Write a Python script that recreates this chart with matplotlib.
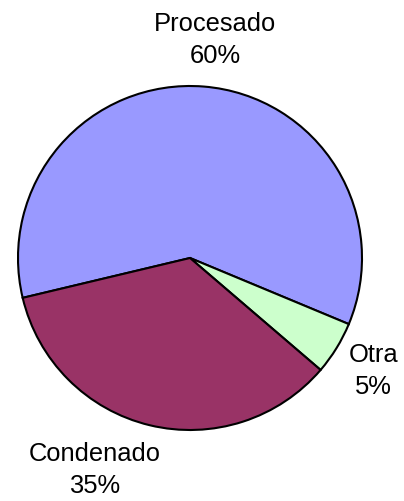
import numpy as np
import matplotlib
matplotlib.use('Agg')
import matplotlib.pyplot as plt

# datos
categorias = ['Procesado', 'Otra', 'Condenado']
valores = [60, 5, 35]
colores = ['#9999FF', '#CCFFCC', '#993366']

# posicion de etiquetas (distancia radial, giro en grados)
etiqueta_r = [1.276, 1.254, 1.352]
etiqueta_giro = [-2, 0, -10.6]

plt.rcParams['font.family'] = ['Liberation Sans', 'DejaVu Sans']

fig = plt.figure(figsize=(4.04, 5.01), dpi=100)
ax = fig.add_axes([0, 0, 1, 1])

wedges, _ = ax.pie(valores, colors=colores, startangle=193.4, counterclock=False,
                   wedgeprops={'edgecolor': 'black', 'linewidth': 1.5})

for w, cat, val, r, g in zip(wedges, categorias, valores, etiqueta_r, etiqueta_giro):
    ang = np.deg2rad((w.theta1 + w.theta2) / 2 + g)
    ax.text(r * np.cos(ang), r * np.sin(ang), f'{cat}\n{val}%',
            ha='center', va='center', fontsize=18.4, linespacing=1.45)

# centro del pastel en pixeles (190, 258), radio 172 px
R = 172.0
ax.set_xlim(-190 / R, (404 - 190) / R)
ax.set_ylim(-(501 - 258) / R, 258 / R)
ax.set_aspect('equal')
ax.axis('off')

plt.savefig('out.png', dpi=100)
